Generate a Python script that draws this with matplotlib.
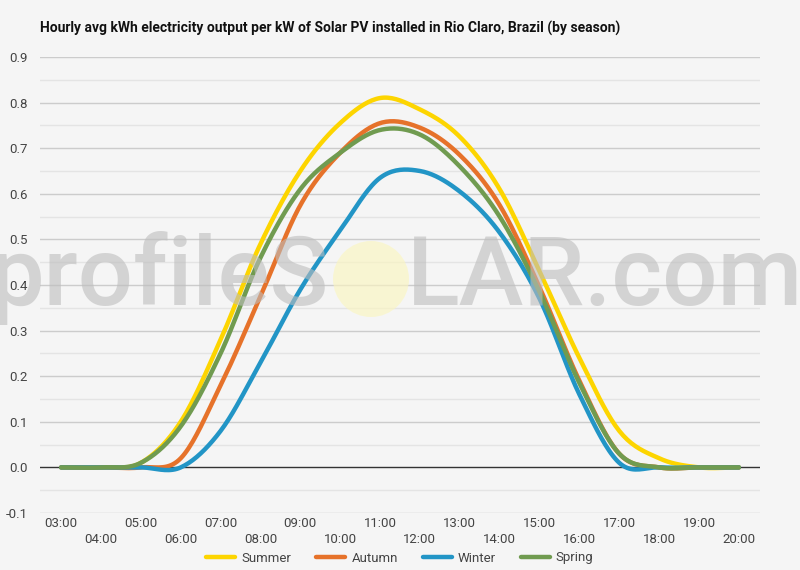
import matplotlib
matplotlib.use("Agg")
import matplotlib.pyplot as plt
from matplotlib.patches import Ellipse
import numpy as np

plt.rcParams['font.family'] = ['Roboto', 'DejaVu Sans']

hours = ["03:00", "04:00", "05:00", "06:00", "07:00", "08:00", "09:00", "10:00", "11:00",
         "12:00", "13:00", "14:00", "15:00", "16:00", "17:00", "18:00", "19:00", "20:00"]
summer = [0, 0, 0.01, 0.10, 0.28, 0.49, 0.65, 0.755, 0.81, 0.785, 0.725, 0.61, 0.43, 0.24, 0.08, 0.02, 0, 0]
autumn = [0, 0, 0, 0.02, 0.18, 0.375, 0.575, 0.69, 0.755, 0.745, 0.685, 0.575, 0.395, 0.19, 0.03, 0, 0, 0]
winter = [0, 0, 0, 0.0, 0.08, 0.23, 0.39, 0.52, 0.635, 0.65, 0.605, 0.515, 0.37, 0.16, 0.01, 0, 0, 0]
spring = [0, 0, 0.01, 0.09, 0.25, 0.46, 0.61, 0.69, 0.74, 0.73, 0.66, 0.55, 0.385, 0.185, 0.03, 0, 0, 0]

series = [("Summer", summer, "#FDD500"),
          ("Autumn", autumn, "#E6722A"),
          ("Winter", winter, "#2295C6"),
          ("Spring", spring, "#709B50")]


def smooth(y, n=20):
    # catmull-rom curve through the points (like a 'function' curve type)
    y = np.asarray(y, dtype=float)
    m = np.zeros_like(y)
    m[1:-1] = (y[2:] - y[:-2]) / 2
    xs, ys = [], []
    t = np.linspace(0, 1, n, endpoint=False)
    for i in range(len(y) - 1):
        h00 = 2 * t**3 - 3 * t**2 + 1
        h10 = t**3 - 2 * t**2 + t
        h01 = -2 * t**3 + 3 * t**2
        h11 = t**3 - t**2
        xs.append(i + t)
        ys.append(h00 * y[i] + h10 * m[i] + h01 * y[i + 1] + h11 * m[i + 1])
    xs.append([len(y) - 1])
    ys.append([y[-1]])
    return np.concatenate(xs), np.concatenate(ys)


bg = "#f5f5f5"
fig = plt.figure(figsize=(8, 5.7), dpi=100, facecolor=bg)
ax = fig.add_axes([0.05, 0.1, 0.9, 0.8], facecolor=bg)

ax.set_ylim(-0.1, 0.9)
ax.set_xlim(-0.53, 17.53)
for v in np.arange(-0.1, 0.91, 0.1):
    if abs(v) > 1e-9:
        ax.axhline(v, color="#cccccc", lw=1, zorder=0)
for v in np.arange(-0.05, 0.9, 0.1):
    ax.axhline(v, color="#e4e4e4", lw=1, zorder=0)
ax.axhline(0, color="#333333", lw=1, zorder=1)

for name, vals, col in series:
    xs, ys = smooth(vals)
    ax.plot(xs, ys, color=col, lw=3.2, label=name, zorder=2, solid_capstyle="round")

for s in ax.spines.values():
    s.set_visible(False)
ax.tick_params(length=0)
ax.set_yticks(np.round(np.arange(-0.1, 0.91, 0.1), 1))
ax.set_yticklabels(["%.1f" % v for v in np.arange(-0.1, 0.91, 0.1)], color="#444444", fontsize=9.5)
ax.tick_params(axis="y", pad=9)
ax.set_xticks([])
tr = ax.get_xaxis_transform()
for i, h in enumerate(hours):
    yy = -0.022 if i % 2 == 0 else -0.059
    ax.text(i, yy, h, transform=tr, ha="center", va="center", fontsize=9.5, color="#444444")

# watermark
fig.text(0.411, 0.465, "profileS", ha="right", va="baseline", fontsize=70, fontweight="medium",
         color="#bdbdbd", alpha=0.6, zorder=5)
fig.text(0.509, 0.465, "LAR.com", ha="left", va="baseline", fontsize=70, fontweight="medium",
         color="#bdbdbd", alpha=0.6, zorder=5)
circ = Ellipse((371 / 800, 1 - 279 / 570), 76 / 800, 76 / 570, transform=fig.transFigure,
               facecolor="#fbf5c0", alpha=0.65, edgecolor="none", zorder=5)
fig.patches.append(circ)

fig.text(40 / 800, 1 - 28 / 570, "Hourly avg kWh electricity output per kW of Solar PV installed in Rio Claro, Brazil (by season)",
         fontsize=10, fontweight="bold", color="#111111", va="center", ha="left")

fig.legend(loc="center", bbox_to_anchor=(0.5, 1 - 558 / 570), ncol=4, frameon=False,
           fontsize=9.5, handlelength=2.2, handletextpad=0.45, columnspacing=1.9,
           labelcolor="#444444")

fig.savefig("out.png", dpi=100, facecolor=bg)
